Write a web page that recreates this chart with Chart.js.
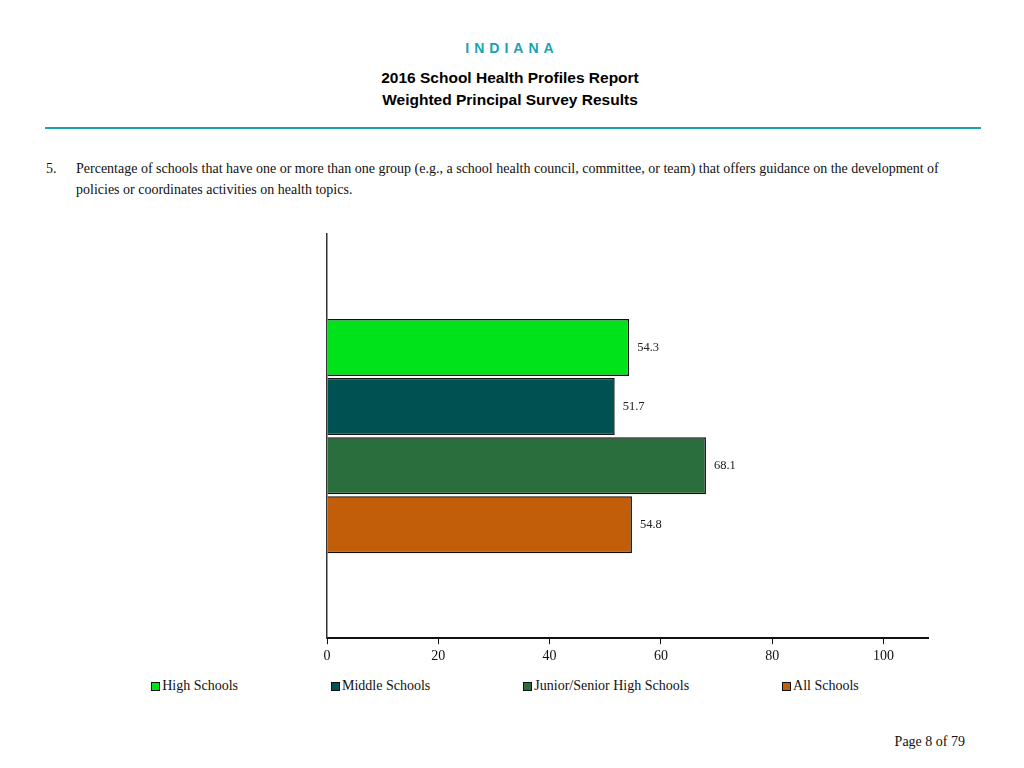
<!DOCTYPE html>
<html>
<head>
<meta charset="utf-8">
<script src="https://cdn.jsdelivr.net/npm/chart.js@4/dist/chart.umd.min.js"></script>
<style>
  body { margin:0; width:1024px; height:768px; background:#fff; position:relative; overflow:hidden; }
  .state { position:absolute; top:40px; left:0; width:1024px; text-align:center; font:bold 14px Arial, "Liberation Sans", sans-serif; color:#17a3b0; letter-spacing:5px; }
  .rpt { position:absolute; left:0; width:1020px; text-align:center; font:bold 15.5px Arial, "Liberation Sans", sans-serif; color:#000; }
  .rule { position:absolute; top:127px; left:45px; width:936px; height:2px; background:#17a3b0; }
  .q { position:absolute; font:14px "Liberation Serif", "Times New Roman", serif; color:#111; line-height:21px; }
  #wrap { position:absolute; top:225px; left:0; width:1010px; height:444px; }
  #legend { position:absolute; top:678px; left:0; width:1010px; display:flex; justify-content:center; gap:93px; font:14px "Liberation Serif", "Times New Roman", serif; color:#111; }
  #legend .item { display:flex; align-items:center; white-space:nowrap; }
  #legend .box { width:7px; height:7px; border:1px solid #111; margin-right:2px; }
  .page { position:absolute; top:734px; right:59px; font:14px "Liberation Serif", "Times New Roman", serif; color:#111; }
</style>
</head>
<body>
<div class="state">INDIANA</div>
<div class="rpt" style="top:69px">2016 School Health Profiles Report</div>
<div class="rpt" style="top:91px">Weighted Principal Survey Results</div>
<div class="rule"></div>
<div class="q" style="top:158px;left:46px">5.</div>
<div class="q" style="top:158px;left:76px;width:885px">Percentage of schools that have one or more than one group (e.g., a school health council, committee, or team) that offers guidance on the development of policies or coordinates activities on health topics.</div>
<div id="wrap"><canvas id="chart"></canvas></div>
<div id="legend"></div>
<div class="page">Page 8 of 79</div>
<script>
// ---- data
const seriesNames  = ['High Schools', 'Middle Schools', 'Junior/Senior High Schools', 'All Schools'];
const seriesValues = [54.3, 51.7, 68.1, 54.8];
const seriesColors = ['#00e31a', '#005252', '#2b6e3e', '#c25e0a'];
const xTicks       = [0, 20, 40, 60, 80, 100];

const serif = '"Liberation Serif", "Times New Roman", serif';

// ---- value labels right of each bar
const valueLabels = {
  id: 'valueLabels',
  afterDatasetsDraw(chart) {
    const ctx = chart.ctx;
    ctx.save();
    ctx.font = '12.5px ' + serif;
    ctx.fillStyle = '#222';
    ctx.textBaseline = 'middle';
    chart.data.datasets.forEach((ds, i) => {
      chart.getDatasetMeta(i).data.forEach((bar, j) => {
        ctx.fillText(ds.data[j].toFixed(1), bar.x + 8, bar.y);
      });
    });
    ctx.restore();
  }
};

const ctx = document.getElementById('chart').getContext('2d');
new Chart(ctx, {
  type: 'bar',
  data: {
    labels: [''],
    datasets: seriesNames.map((name, i) => ({
      label: name,
      data: [seriesValues[i]],
      backgroundColor: seriesColors[i],
      borderColor: '#111',
      borderWidth: 1.5,
      categoryPercentage: 0.585,
      barPercentage: 0.965
    }))
  },
  options: {
    indexAxis: 'y',
    responsive: true,
    maintainAspectRatio: false,
    animation: false,
    layout: { padding: { left: 327, right: 82, top: 9, bottom: 0 } },
    scales: {
      x: {
        min: 0,
        max: 108,
        afterBuildTicks: (axis) => { axis.ticks = xTicks.map(v => ({ value: v })); },
        grid: { drawOnChartArea: false, tickLength: 6, color: '#111', lineWidth: 1 },
        border: { color: '#111', width: 2 },
        ticks: { color: '#111', font: { family: serif, size: 14 }, padding: 4, maxRotation: 0 }
      },
      y: {
        grid: { drawOnChartArea: false, drawTicks: false },
        border: { color: '#333', width: 1.5 },
        ticks: { display: false }
      }
    },
    plugins: {
      legend: { display: false },
      tooltip: { enabled: false }
    }
  },
  plugins: [valueLabels]
});

// ---- legend
let temp = ``;
seriesNames.forEach((name, i) => {
  temp += `<div class="item"><div class="box" style="background-color:` + seriesColors[i] + `"></div><span>` + name + `</span></div>`;
});
document.getElementById('legend').innerHTML = temp;
</script>
</body>
</html>
